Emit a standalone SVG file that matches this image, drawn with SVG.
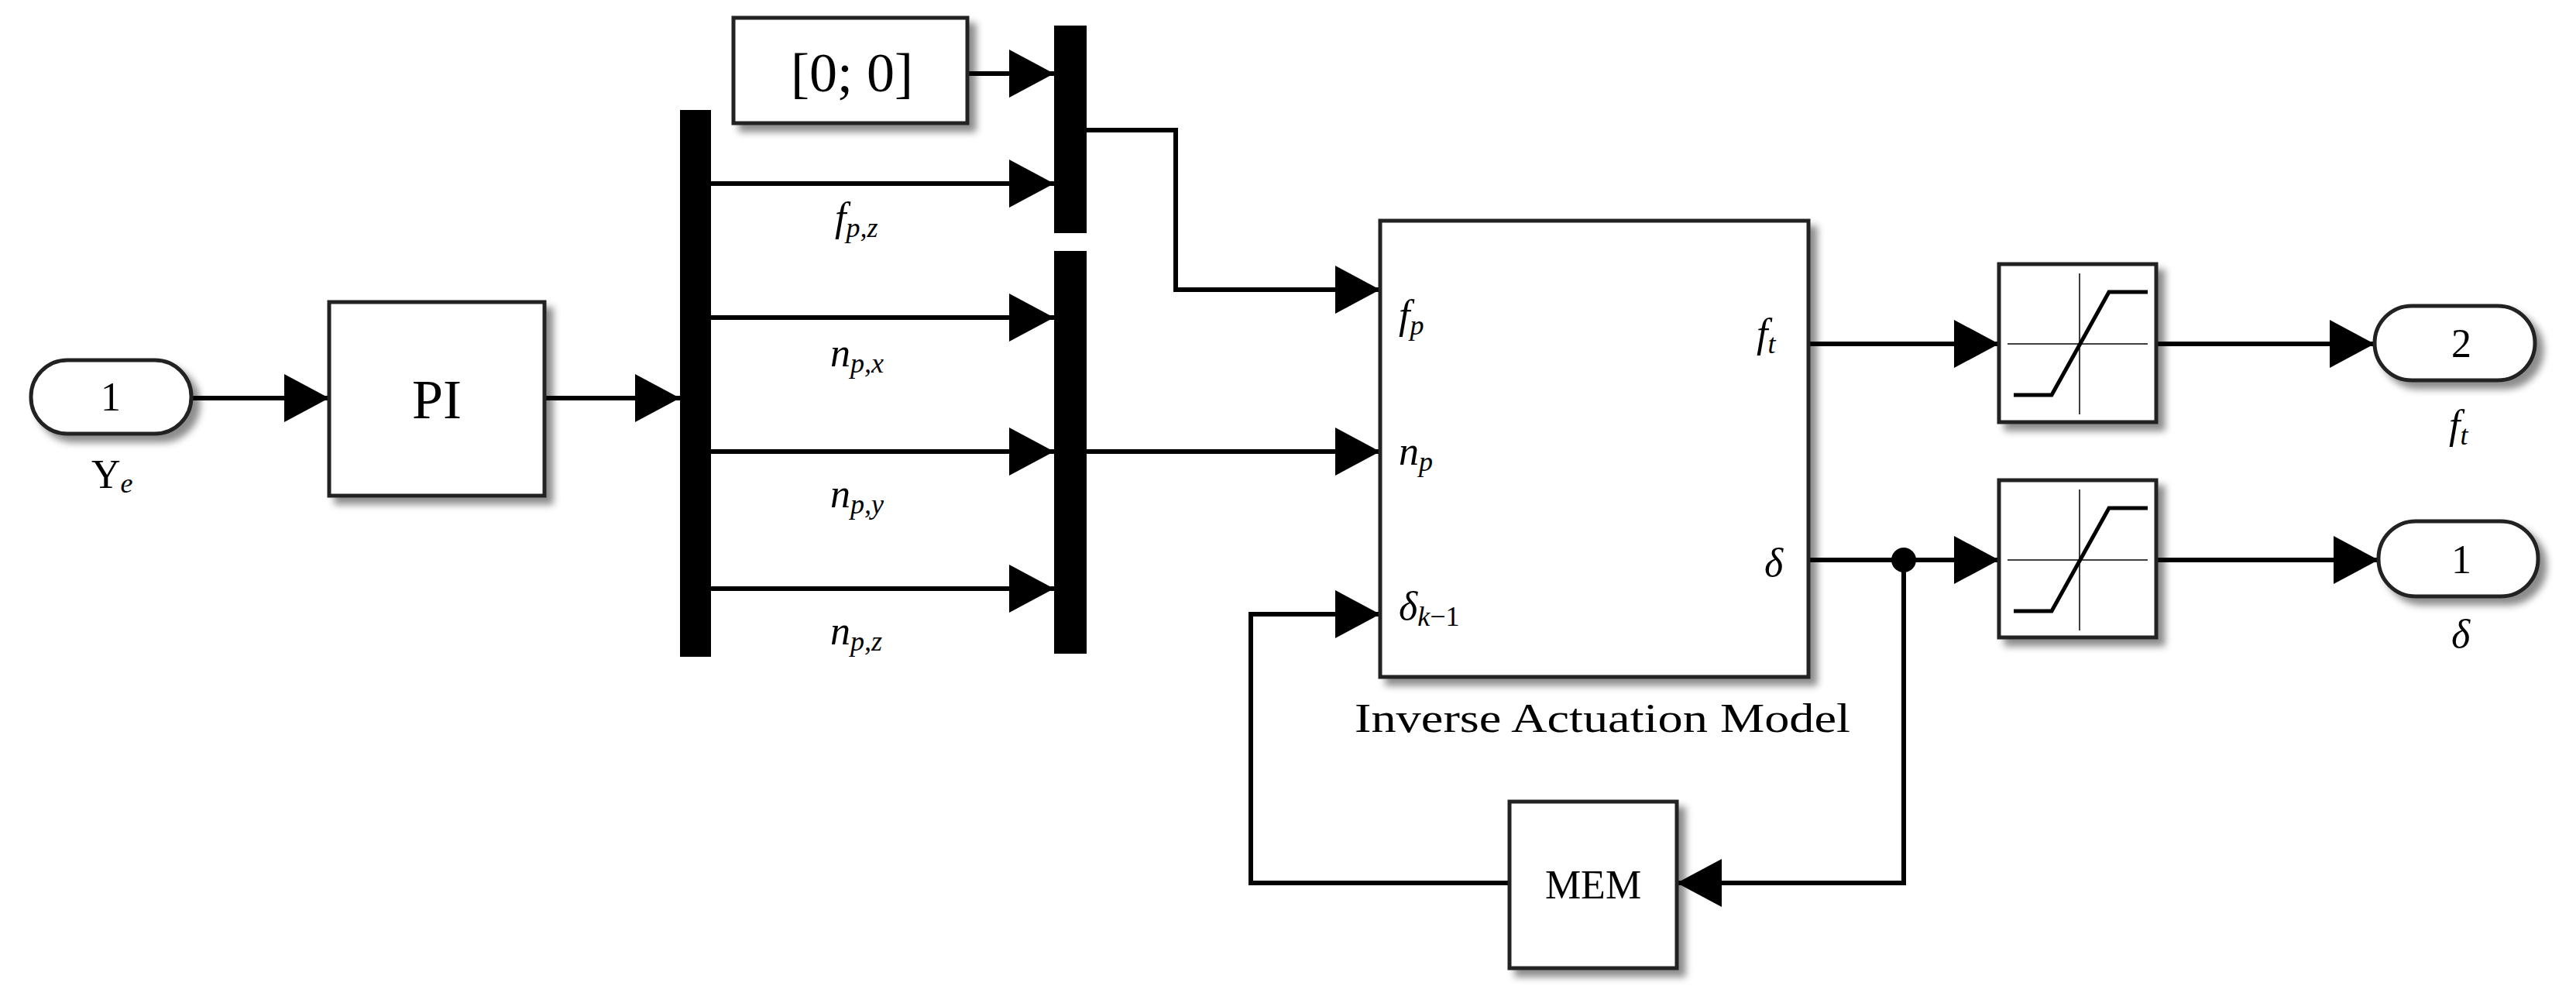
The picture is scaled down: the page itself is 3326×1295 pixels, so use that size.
<svg xmlns="http://www.w3.org/2000/svg" width="3326" height="1295" viewBox="0 0 3326 1295">
<style>
.blk{fill:#fff;stroke:#222;stroke-width:5;filter:url(#sh)}
.ln{fill:none;stroke:#000;stroke-width:6}
.ar{fill:none;stroke:#000;stroke-width:6;marker-end:url(#ah)}
.bar{fill:#000}
text{font-family:"Liberation Serif","DejaVu Serif",serif;fill:#000}
.it{font-style:italic}
.t{font-size:52px}
.big{font-size:72px}
.sub{font-size:36px;font-style:italic}
</style>
<defs>
<filter id="sh" x="-20%" y="-20%" width="150%" height="150%"><feDropShadow dx="9" dy="9" stdDeviation="5" flood-color="#000" flood-opacity="0.45"/></filter>
<marker id="ah" markerUnits="userSpaceOnUse" markerWidth="60" markerHeight="64" refX="58" refY="31" orient="auto"><path d="M0,0 L58,31 L0,62 z" fill="#000"/></marker>
</defs>
<g id="connectors">
<line class="ar" x1="247" y1="514" x2="425" y2="514"/>
<line class="ar" x1="703" y1="514" x2="878" y2="514"/>
<line class="ar" x1="1249" y1="95" x2="1361" y2="95"/>
<line class="ar" x1="918" y1="237" x2="1361" y2="237"/>
<line class="ar" x1="918" y1="410" x2="1361" y2="410"/>
<line class="ar" x1="918" y1="583" x2="1361" y2="583"/>
<line class="ar" x1="918" y1="760" x2="1361" y2="760"/>
<polyline class="ar" points="1403,168 1518,168 1518,374 1782,374"/>
<line class="ar" x1="1403" y1="583" x2="1782" y2="583"/>
<polyline class="ar" points="1949,1140 1615,1140 1615,793 1782,793"/>
<line class="ar" x1="2335" y1="444" x2="2581" y2="444"/>
<line class="ar" x1="2335" y1="723" x2="2581" y2="723"/>
<polyline class="ar" points="2458,723 2458,1140 2165,1140"/>
<circle cx="2458" cy="723" r="16" fill="#000"/>
<line class="ar" x1="2784" y1="444" x2="3066" y2="444"/>
<line class="ar" x1="2784" y1="723" x2="3071" y2="723"/>
</g>
<g id="in1">
<rect class="blk" x="40" y="465" width="207" height="95" rx="47"/>
<text class="t" x="143" y="530" text-anchor="middle">1</text>
<text class="t" x="118" y="630">Y<tspan class="sub" dy="6">e</tspan></text>
</g>
<g id="pi">
<rect class="blk" x="425" y="390" width="278" height="250"/>
<text class="big" x="564" y="540" text-anchor="middle">PI</text>
</g>
<g id="demux"><rect class="bar" x="878" y="142" width="40" height="706"/></g>
<g id="const">
<rect class="blk" x="947" y="23" width="302" height="136"/>
<text class="big" x="1100" y="118" text-anchor="middle">[0; 0]</text>
</g>
<g id="mux1"><rect class="bar" x="1361" y="33" width="42" height="268"/></g>
<g id="mux2"><rect class="bar" x="1361" y="324" width="42" height="520"/></g>
<g id="labels">
<text class="t it" x="1078" y="298">f<tspan class="sub" dy="8">p,z</tspan></text>
<text class="t it" x="1072" y="473">n<tspan class="sub" dy="8">p,x</tspan></text>
<text class="t it" x="1072" y="655">n<tspan class="sub" dy="8">p,y</tspan></text>
<text class="t it" x="1072" y="832">n<tspan class="sub" dy="8">p,z</tspan></text>
</g>
<g id="iam">
<rect class="blk" x="1782" y="285" width="553" height="589"/>
<text class="t it" x="1806" y="424">f<tspan class="sub" dy="8">p</tspan></text>
<text class="t it" x="1806" y="600">n<tspan class="sub" dy="8">p</tspan></text>
<text class="t it" x="1806" y="800">δ<tspan class="sub" dy="8" font-style="italic">k</tspan><tspan font-size="36px" font-style="normal">−1</tspan></text>
<text class="t it" x="2268" y="448">f<tspan class="sub" dy="8">t</tspan></text>
<text class="t it" x="2278" y="744">δ</text>
<text class="t" x="2069" y="945" text-anchor="middle" textLength="640" lengthAdjust="spacingAndGlyphs">Inverse Actuation Model</text>
</g>
<g id="sat1">
<rect class="blk" x="2581" y="341" width="203" height="204"/>
<line x1="2592" y1="444" x2="2773" y2="444" stroke="#000" stroke-width="1.5"/>
<line x1="2685" y1="353" x2="2685" y2="535" stroke="#000" stroke-width="1.5"/>
<polyline class="ln" points="2600,510 2649,510 2723,377 2773,377" style="stroke-width:5"/>
</g>
<g id="sat2">
<rect class="blk" x="2581" y="620" width="203" height="203"/>
<line x1="2592" y1="723" x2="2773" y2="723" stroke="#000" stroke-width="1.5"/>
<line x1="2685" y1="632" x2="2685" y2="814" stroke="#000" stroke-width="1.5"/>
<polyline class="ln" points="2600,789 2649,789 2723,656 2773,656" style="stroke-width:5"/>
</g>
<g id="mem">
<rect class="blk" x="1949" y="1035" width="216" height="215"/>
<text class="t" x="2057" y="1160" text-anchor="middle">MEM</text>
</g>
<g id="out2">
<rect class="blk" x="3066" y="395" width="207" height="96" rx="48"/>
<text class="t" x="3178" y="461" text-anchor="middle">2</text>
<text class="t it" x="3162" y="566">f<tspan class="sub" dy="8">t</tspan></text>
</g>
<g id="out1">
<rect class="blk" x="3071" y="673" width="206" height="97" rx="48"/>
<text class="t" x="3178" y="740" text-anchor="middle">1</text>
<text class="t it" x="3165" y="836">δ</text>
</g>
</svg>
